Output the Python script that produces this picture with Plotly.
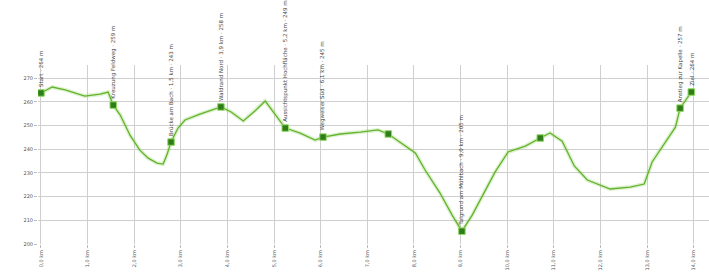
import plotly.graph_objects as go

# Elevation profile (distance in km, elevation in m)
distance_km = [0.00, 0.24, 0.52, 0.94, 1.27, 1.44, 1.55, 1.70, 1.91, 2.12, 2.30, 2.49, 2.62, 2.70,
               2.79, 2.94, 3.09, 3.41, 3.86, 4.08, 4.34, 4.59, 4.81, 4.96, 5.24, 5.56, 5.88, 6.05,
               6.42, 6.85, 7.23, 7.45, 7.70, 8.03, 8.24, 8.56, 8.82, 9.03, 9.25, 9.53, 9.74, 10.02,
               10.39, 10.71, 10.92, 11.18, 11.44, 11.72, 12.21, 12.64, 12.94, 13.11, 13.43, 13.61,
               13.71, 13.86, 13.95]
elevation_m = [263.7, 266.2, 265.0, 262.4, 263.2, 264.1, 258.6, 254.4, 245.9, 239.6, 236.2, 234.1,
               233.7, 237.5, 243.0, 248.9, 252.3, 254.8, 257.8, 255.7, 251.9, 256.1, 260.3, 256.5,
               248.9, 246.8, 243.8, 245.1, 246.4, 247.2, 248.1, 246.4, 243.0, 238.4, 231.2, 221.5,
               212.2, 205.4, 212.2, 222.7, 230.3, 238.8, 241.3, 244.7, 246.8, 243.4, 232.9, 227.0,
               223.2, 224.0, 225.3, 234.6, 243.8, 249.3, 257.3, 261.6, 264.1]

# Waypoints
wp_distance = [0.00, 1.55, 2.79, 3.86, 5.24, 6.05, 7.45, 9.03, 10.71, 13.71, 13.95]
wp_elevation = [263.7, 258.6, 243.0, 257.8, 248.9, 245.1, 246.4, 205.4, 244.7, 257.3, 264.1]
wp_labels = ["Start · 264 m", "Kreuzung Feldweg · 259 m", "Brücke am Bach · 1,5 km · 243 m",
             "Waldrand Nord · 3,9 km · 258 m", "Aussichtspunkt Hochfläche · 5,2 km · 249 m",
             "Wegweiser Süd · 6,1 km · 245 m", "", "Talgrund am Mühlbach · 9,0 km · 205 m", "",
             "Anstieg zur Kapelle · 257 m", "Ziel · 264 m"]

y_ticks = [200, 210, 220, 230, 240, 250, 260, 270]
x_ticks = list(range(0, 15))
x_tick_labels = [f"{v},0 km" for v in x_ticks]

fig = go.Figure()
fig.add_trace(go.Scatter(x=distance_km, y=elevation_m, mode="lines",
                         line=dict(color="rgba(120,200,60,0.25)", width=4),
                         hoverinfo="skip", showlegend=False))
fig.add_trace(go.Scatter(x=distance_km, y=elevation_m, mode="lines",
                         line=dict(color="#62b32c", width=1.3), showlegend=False))
fig.add_trace(go.Scatter(x=wp_distance, y=wp_elevation, mode="markers",
                         marker=dict(symbol="square", size=6.5, color="#2f7d1a",
                                     line=dict(color="#8fd860", width=1)),
                         showlegend=False))

for xd, yd, lab in zip(wp_distance, wp_elevation, wp_labels):
    if not lab:
        continue
    fig.add_annotation(x=xd, y=yd, text=lab, textangle=-90, showarrow=False,
                       xanchor="center", yanchor="bottom", yshift=4,
                       font=dict(family="DejaVu Sans", size=5.5, color="#444444"))

fig.update_layout(
    width=709, height=276,
    margin=dict(l=38, r=0, t=65, b=32),
    paper_bgcolor="white", plot_bgcolor="white",
    font=dict(family="DejaVu Sans", size=5, color="#555555"),
)
fig.update_xaxes(range=[-0.064, 14.33], tickvals=x_ticks, ticktext=x_tick_labels,
                 tickangle=-90, showgrid=True, gridcolor="#cfcfcf", gridwidth=1,
                 zeroline=False, showline=False, ticks="outside", ticklen=3,
                 tickcolor="#bbbbbb", tickfont=dict(size=5, color="#555555"),
                 automargin=False)
fig.update_yaxes(range=[200, 275.5], tickvals=y_ticks, ticksuffix=" m",
                 showgrid=True, gridcolor="#cfcfcf", gridwidth=1, zeroline=False,
                 showline=False, ticks="outside", ticklen=3, tickcolor="#bbbbbb",
                 tickfont=dict(size=5, color="#555555"), automargin=False)

fig.write_html("out.html", config={"displayModeBar": False},
               post_script="document.body.style.margin='0';document.body.style.overflow='hidden';")
